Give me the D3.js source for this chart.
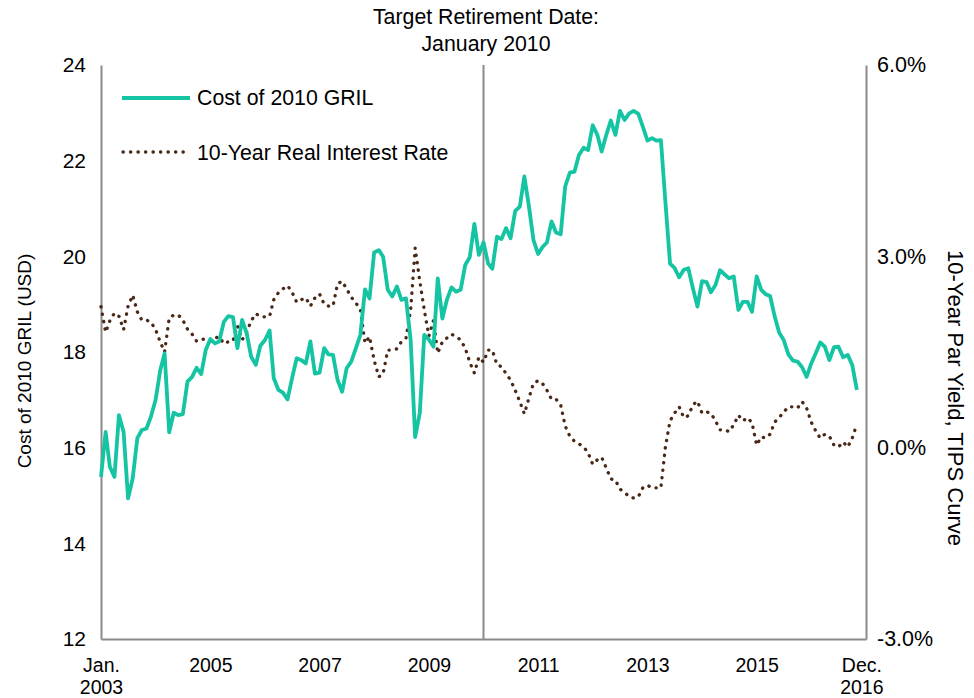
<!DOCTYPE html>
<html>
<head>
<meta charset="utf-8">
<script src="https://cdn.jsdelivr.net/npm/d3@7"></script>
<style>
body{margin:0;background:#fff;}
svg text{font-family:"Liberation Sans",Arial,sans-serif;fill:#000;}
</style>
</head>
<body>
<div id="chart"></div>
<script>
// monthly series, Jan 2003 .. Nov 2016
var firstMonth = new Date(2003, 0, 1);

var gril = [
15.39,16.33,15.60,15.39,16.68,16.33,14.94,15.36,16.20,16.37,16.40,16.65,
17.00,17.62,17.97,16.32,16.73,16.68,16.70,17.38,17.48,17.67,17.54,18.04,
18.27,18.18,18.22,18.63,18.75,18.73,18.08,18.67,18.39,17.90,17.73,18.13,
18.25,18.45,17.45,17.21,17.15,17.01,17.45,17.87,17.83,17.76,18.22,17.55,
17.57,18.08,17.95,17.94,17.42,17.17,17.66,17.80,18.08,18.36,19.31,19.12,
20.08,20.13,19.99,19.30,19.16,19.37,19.09,19.12,18.25,16.22,16.72,18.36,
18.26,18.11,19.54,18.70,19.09,19.35,19.26,19.30,19.82,19.98,20.68,20.03,
20.29,19.85,19.74,20.41,20.36,20.59,20.38,20.95,21.04,21.67,21.04,20.34,
20.05,20.20,20.29,20.73,20.50,20.46,21.46,21.75,21.77,22.12,22.27,22.22,
22.74,22.54,22.19,22.54,22.84,22.54,23.04,22.85,22.99,23.04,22.98,22.71,
22.42,22.47,22.42,22.43,21.14,19.85,19.76,19.56,19.72,19.75,19.33,18.95,
19.48,19.46,19.25,19.40,19.71,19.62,19.54,19.58,18.88,19.05,19.05,18.84,
19.58,19.30,19.21,19.17,18.75,18.40,18.25,17.95,17.82,17.80,17.68,17.48,
17.76,17.98,18.20,18.11,17.83,18.10,18.11,17.89,17.94,17.73,17.21
];

var realRate = [
2.21,1.81,1.99,2.11,2.06,1.85,2.22,2.39,2.13,2.00,2.00,1.97,
1.85,1.66,1.50,2.03,2.08,2.08,2.00,1.86,1.78,1.67,1.70,1.70,
1.67,1.72,1.74,1.63,1.66,1.67,1.91,1.69,1.81,1.99,2.10,2.06,
2.05,2.06,2.32,2.43,2.49,2.54,2.44,2.28,2.32,2.35,2.22,2.35,
2.41,2.25,2.22,2.22,2.57,2.61,2.49,2.36,2.27,2.16,1.64,1.74,
1.37,1.11,1.16,1.53,1.53,1.55,1.66,1.72,2.16,3.13,2.61,2.16,
1.75,2.00,1.48,1.66,1.72,1.78,1.74,1.69,1.56,1.34,1.17,1.42,
1.34,1.53,1.53,1.30,1.27,1.16,1.06,0.90,0.72,0.53,0.78,1.01,
1.05,1.00,0.90,0.76,0.76,0.67,0.34,0.18,0.10,0.06,0.01,-0.08,
-0.26,-0.19,-0.15,-0.32,-0.49,-0.51,-0.65,-0.70,-0.77,-0.79,-0.77,-0.63,
-0.59,-0.63,-0.63,-0.63,0.01,0.42,0.54,0.64,0.47,0.50,0.67,0.73,
0.54,0.56,0.54,0.42,0.28,0.28,0.25,0.36,0.51,0.42,0.47,0.39,
0.04,0.17,0.15,0.21,0.40,0.47,0.56,0.64,0.64,0.62,0.72,0.62,
0.40,0.26,0.15,0.21,0.18,0.04,0.01,0.09,0.01,0.15,0.37
];

var leftTicks = [12,14,16,18,20,22,24];
var rightTicks = [-3,0,3,6];
var xTickDates = [new Date(2003,0,1),new Date(2005,0,1),new Date(2007,0,1),new Date(2009,0,1),
  new Date(2011,0,1),new Date(2013,0,1),new Date(2015,0,1),new Date(2016,11,1)];
var xTickLabels = [['Jan.','2003'],['2005'],['2007'],['2009'],['2011'],['2013'],['2015'],['Dec.','2016']];
var targetDate = new Date(2010,0,1);
var seriesNames = ['Cost of 2010 GRIL','10-Year Real Interest Rate'];

var width = 974, height = 698;
var plotLeft = 101, plotRight = 866, plotTop = 65, plotBottom = 639;
var teal = '#14c4a2', brown = '#4a2818', axisGrey = '#8a8a8a';

var svg = d3.select('#chart').append('svg')
  .attr('width', width)
  .attr('height', height);

var x = d3.scaleTime()
  .domain([firstMonth, new Date(2017,0,1)])
  .range([plotLeft, plotRight]);
var yLeft = d3.scaleLinear().domain([12,24]).range([plotBottom, plotTop]);
var yRight = d3.scaleLinear().domain([-3,6]).range([plotBottom, plotTop]);

var monthOf = function(i){ return d3.timeMonth.offset(firstMonth, i); };

// axes
var xAxis = svg.append('g')
  .attr('transform','translate(0,'+plotBottom+')')
  .call(d3.axisBottom(x).tickValues(xTickDates).tickSize(0).tickPadding(19));
xAxis.selectAll('.tick text').each(function(d,i){
  var t = d3.select(this).text('').attr('dy', null);
  xTickLabels[i].forEach(function(s,j){
    t.append('tspan').attr('x',0).attr('dy', j ? '1.14em' : '0.71em').text(s);
  });
});
xAxis.selectAll('.tick text').style('font-size','19.5px');

var yAxisL = svg.append('g')
  .attr('transform','translate('+plotLeft+',0)')
  .call(d3.axisLeft(yLeft).tickValues(leftTicks).tickSize(0).tickPadding(15));
yAxisL.selectAll('.tick text').style('font-size','21px');

var yAxisR = svg.append('g')
  .attr('transform','translate('+plotRight+',0)')
  .call(d3.axisRight(yRight).tickValues(rightTicks).tickSize(0).tickPadding(11)
    .tickFormat(function(d){ return d.toFixed(1)+'%'; }));
yAxisR.selectAll('.tick text').style('font-size','21.5px');

svg.selectAll('.domain').attr('stroke', axisGrey).attr('stroke-width', 2);
svg.selectAll('.tick text').attr('fill','#000');

// target date marker
svg.append('line')
  .attr('x1', x(targetDate)).attr('x2', x(targetDate))
  .attr('y1', plotTop).attr('y2', plotBottom)
  .attr('stroke', axisGrey).attr('stroke-width', 2);

// lines
var lineGril = d3.line()
  .x(function(d,i){ return x(monthOf(i)); })
  .y(function(d){ return yLeft(d); });
var lineRate = d3.line()
  .x(function(d,i){ return x(monthOf(i)); })
  .y(function(d){ return yRight(d); });

svg.append('path')
  .attr('d', lineRate(realRate))
  .attr('fill','none')
  .attr('stroke', brown)
  .attr('stroke-width', 3.3)
  .attr('stroke-linecap','round')
  .attr('stroke-dasharray','0.3 7.2');

svg.append('path')
  .attr('d', lineGril(gril))
  .attr('fill','none')
  .attr('stroke', teal)
  .attr('stroke-width', 3.8)
  .attr('stroke-linejoin','round');

// title
var title = svg.append('text')
  .attr('text-anchor','middle')
  .style('font-size','21.3px');
title.append('tspan').attr('x', 486).attr('y', 24).text('Target Retirement Date:');
title.append('tspan').attr('x', 486).attr('y', 51).text('January 2010');

// legend
var legend = svg.append('g');
legend.append('line')
  .attr('x1',122).attr('x2',190).attr('y1',98).attr('y2',98)
  .attr('stroke',teal).attr('stroke-width',3.8);
legend.append('text').attr('x',197).attr('y',105)
  .style('font-size','21.3px').text(seriesNames[0]);
legend.append('line')
  .attr('x1',123).attr('x2',190).attr('y1',152).attr('y2',152)
  .attr('stroke',brown).attr('stroke-width',3.3)
  .attr('stroke-linecap','round').attr('stroke-dasharray','0.3 7.2');
legend.append('text').attr('x',197).attr('y',160)
  .style('font-size','21.3px').text(seriesNames[1]);

// axis titles
svg.append('text')
  .attr('transform','translate(31,361) rotate(-90)')
  .attr('text-anchor','middle')
  .style('font-size','19px')
  .text('Cost of 2010 GRIL (USD)');

svg.append('text')
  .attr('transform','translate(948,398) rotate(90)')
  .attr('text-anchor','middle')
  .style('font-size','22px')
  .text('10-Year Par Yield, TIPS Curve');
</script>
</body>
</html>
